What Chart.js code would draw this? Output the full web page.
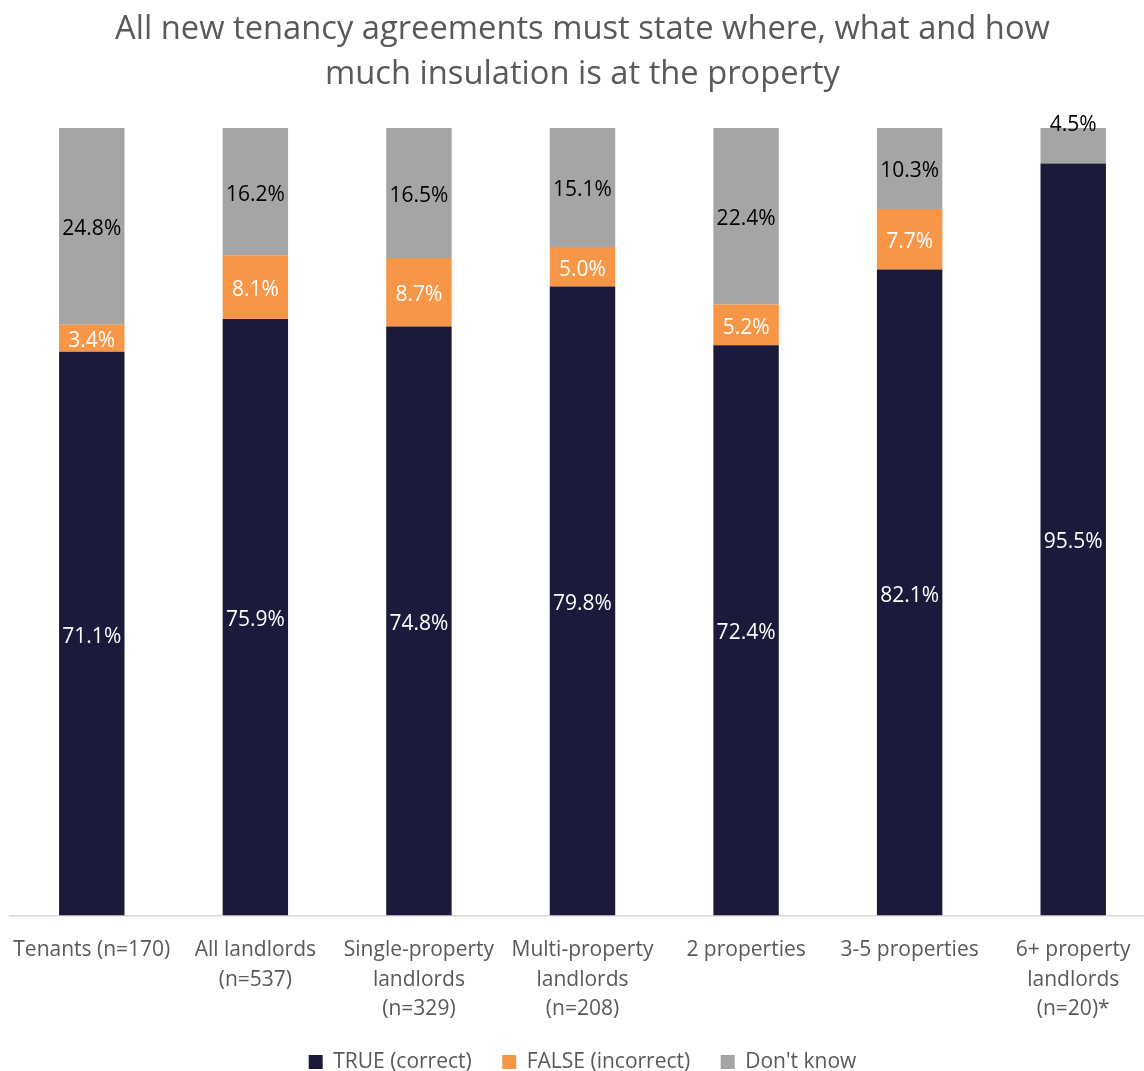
<!DOCTYPE html>
<html>
<head>
<meta charset="utf-8">
<title>Insulation statement in tenancy agreements</title>
<script src="https://cdn.jsdelivr.net/npm/chart.js@4/dist/chart.umd.min.js"></script>
<style>
  html, body { margin: 0; padding: 0; background: #fff; overflow: hidden; }
  #wrap { position: absolute; left: 0; top: 0; width: 1166px; height: 1071px; }
</style>
</head>
<body>
<div id="wrap"><canvas id="insulationChart" width="1166" height="1071"></canvas></div>
<script>
const groups = [
  'Tenants (n=170)',
  ['All landlords', '(n=537)'],
  ['Single-property', 'landlords', '(n=329)'],
  ['Multi-property', 'landlords', '(n=208)'],
  '2 properties',
  '3-5 properties',
  ['6+ property', 'landlords', '(n=20)*']
];

const trueCorrect = [71.1, 75.9, 74.8, 79.8, 72.4, 82.1, 95.5];
const falseIncorrect = [3.4, 8.1, 8.7, 5.0, 5.2, 7.7, 0];
const dontKnow = [24.8, 16.2, 16.5, 15.1, 22.4, 10.3, 4.5];

const seriesNames = ['TRUE (correct)', 'FALSE (incorrect)', "Don't know"];
const seriesColors = ['#1b1a3a', '#f79646', '#a5a5a5'];
const labelColors = ['#ffffff', '#ffffff', '#000000'];

const rawSeries = [trueCorrect, falseIncorrect, dontKnow];

// each column is drawn as a share of its own total (100% stacked)
const totals = groups.map((_, i) => rawSeries.reduce((s, arr) => s + arr[i], 0));
const shares = rawSeries.map(arr => arr.map((v, i) => v / totals[i] * 100));

const FONT = "'Open Sans', sans-serif";

// percentage labels in the middle of each segment
const segmentLabels = {
  id: 'segmentLabels',
  afterDatasetsDraw(chart) {
    const ctx = chart.ctx;
    ctx.save();
    ctx.font = `21px ${FONT}`;
    ctx.textAlign = 'center';
    ctx.textBaseline = 'middle';
    chart.data.datasets.forEach((ds, di) => {
      const meta = chart.getDatasetMeta(di);
      meta.data.forEach((bar, i) => {
        const v = rawSeries[di][i];
        if (!v) return;
        const h = bar.base - bar.y;
        let y = (bar.y + bar.base) / 2 + 3;
        // a thin top segment gets its label lifted onto the bar edge
        if (di === rawSeries.length - 1 && h < 40) y = bar.y - 3;
        ctx.fillStyle = labelColors[di];
        ctx.fillText(v.toFixed(1) + '%', bar.x, y);
      });
    });
    ctx.restore();
  }
};

new Chart(document.getElementById('insulationChart'), {
  type: 'bar',
  data: {
    labels: groups,
    datasets: seriesNames.map((name, k) => ({
      label: name,
      data: shares[k],
      backgroundColor: seriesColors[k],
      borderWidth: 0,
      categoryPercentage: 1,
      barPercentage: 0.4
    }))
  },
  options: {
    responsive: false,
    animation: false,
    layout: { padding: { left: 10, right: 11, top: 0, bottom: 0 } },
    scales: {
      x: {
        stacked: true,
        grid: { display: false, drawTicks: false },
        border: { display: true, color: '#d9d9d9', width: 1.5 },
        ticks: {
          color: '#595959',
          font: { family: FONT, size: 21, lineHeight: 1.405 },
          padding: 20,
          maxRotation: 0,
          autoSkip: false
        },
        // keep the axis tight: no space below the labels, no side padding
        afterFit(scale) {
          scale.height = 17 + 3 * 21 * 1.405;
          scale.paddingLeft = 0;
          scale.paddingRight = 0;
        }
      },
      y: {
        stacked: true,
        display: false,
        min: 0,
        max: 100
      }
    },
    plugins: {
      title: {
        display: true,
        text: ['All new tenancy agreements must state where, what and how', 'much insulation is at the property'],
        color: '#595959',
        font: { family: FONT, size: 32.7, weight: 'normal', lineHeight: 1.376 },
        padding: { top: 7.5, bottom: 30.5 }
      },
      legend: {
        position: 'bottom',
        maxHeight: 50,
        labels: {
          color: '#595959',
          font: { family: FONT, size: 21 },
          boxWidth: 14,
          boxHeight: 14,
          padding: 30.5
        }
      },
      tooltip: { enabled: false }
    }
  },
  plugins: [segmentLabels]
});
</script>
</body>
</html>
